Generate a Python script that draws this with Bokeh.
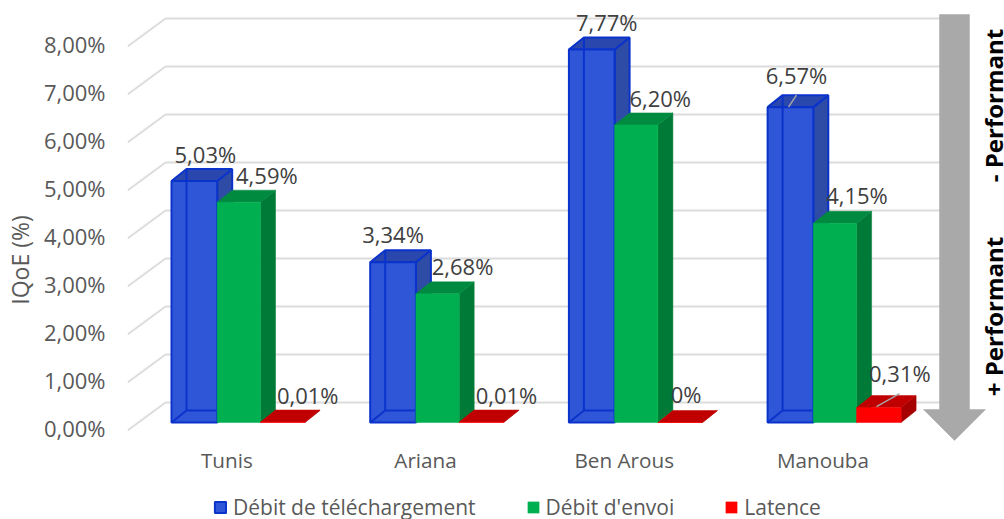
from bokeh.plotting import figure
from bokeh.embed import file_html
from bokeh.resources import INLINE
from bokeh.models import Range1d, LinearAxis, FixedTicker, Legend, LegendItem, ColumnDataSource
from bokeh.core.properties import value

categories = ["Tunis", "Ariana", "Ben Arous", "Manouba"]
series_names = ["Débit de téléchargement", "Débit d'envoi", "Latence"]
download = [5.03, 3.34, 7.77, 6.57]
upload = [4.59, 2.68, 6.20, 4.15]
latency = [0.01, 0.01, 0.0, 0.31]
download_labels = ["5,03%", "3,34%", "7,77%", "6,57%"]
upload_labels = ["4,59%", "2,68%", "6,20%", "4,15%"]
latency_labels = ["0,01%", "0,01%", "0%", "0,31%"]
y_ticks = [0, 1, 2, 3, 4, 5, 6, 7, 8]
y_tick_labels = ["0,00%", "1,00%", "2,00%", "3,00%", "4,00%", "5,00%", "6,00%", "7,00%", "8,00%"]

FONT = "Open Sans"
PX_X = 198.7   # px per category
PX_Y = 48.0    # px per percent
X0_IMG = 127
ZERO_IMG = 422
W, H = 1004, 519


def X(img_px):
    return (img_px - X0_IMG) / PX_X


def Y(img_px):
    return (ZERO_IMG - img_px) / PX_Y


DX, DY = 15 / PX_X, 12 / PX_Y
BAR_LEFT = [44 / PX_X, 89.7 / PX_X, 133 / PX_X]
BAR_WIDTH = [45.7 / PX_X, 43.3 / PX_X, 44.5 / PX_X]

p = figure(
    width=W, height=H, output_backend="svg", toolbar_location=None,
    x_range=Range1d(0, X(W)),
    y_range=Range1d(Y(H), Y(0)),
    x_axis_location="below", y_axis_location=None,
    min_border_left=127, min_border_right=0, min_border_top=0, min_border_bottom=0,
    background_fill_color="white", border_fill_color="white", outline_line_color=None,
)
p.grid.visible = False

AXIS_ZERO = 427
p.extra_y_ranges = {"axis": Range1d((AXIS_ZERO - H) / PX_Y, AXIS_ZERO / PX_Y)}
yaxis = LinearAxis(
    y_range_name="axis", ticker=FixedTicker(ticks=y_ticks), bounds=(-0.16, 8),
    major_label_overrides={t: s for t, s in zip(y_ticks, y_tick_labels)},
    axis_label="IQoE (%)", axis_label_text_font=FONT, axis_label_text_font_size="23px",
    axis_label_text_font_style="normal", axis_label_text_color="#595959", axis_label_standoff=5,
    major_label_text_font=FONT, major_label_text_font_size="22px", major_label_text_color="#595959",
    major_label_standoff=16, axis_line_color=None, major_tick_line_color=None, minor_tick_line_color=None,
)
p.add_layout(yaxis, "left")

xa = p.xaxis[0]
xa.fixed_location = Y(430)
xa.ticker = FixedTicker(ticks=[i + 0.5 for i in range(len(categories))])
xa.major_label_overrides = {i + 0.5: c for i, c in enumerate(categories)}
xa.major_label_text_font = FONT
xa.major_label_text_font_size = "20.7px"
xa.major_label_text_color = "#595959"
xa.major_label_standoff = 9
xa.axis_line_color = None
xa.major_tick_line_color = None
xa.minor_tick_line_color = None

fr, bk = -8 / PX_Y, 20 / PX_Y
gx = [[0, 38 / PX_X, len(categories) + 38 / PX_X] for _ in y_ticks]
gy = [[t + fr, t + bk, t + bk] for t in y_ticks]
p.multi_line(gx, gy, line_color="#dcdcdc", line_width=2)

faces = [
    ("#2f56d6", "#2e4ba6", "#2a47ad", "#0a33cc"),
    ("#00b050", "#007a37", "#008a40", None),
    ("#ff0000", "#a60000", "#c00000", None),
]
front_renderers = []
all_series = [download, upload, latency]
for j, vals in enumerate(all_series):
    front, side, top, edge = faces[j]
    x0 = [i + BAR_LEFT[j] for i in range(len(vals))]
    x1 = [x + BAR_WIDTH[j] for x in x0]
    zeros = [0] * len(vals)
    sx = [[b, b + DX, b + DX, b] for b in x1]
    sy = [[0, DY, v + DY, v] for v in vals]
    p.patches(sx, sy, fill_color=side, line_color=edge or side, line_width=2 if edge else 0.5)
    tx = [[a, a + DX, b + DX, b] for a, b in zip(x0, x1)]
    ty = [[v, v + DY, v + DY, v] for v in vals]
    p.patches(tx, ty, fill_color=top, line_color=edge or top, line_width=2 if edge else 0.5)
    r = p.quad(left=x0, right=x1, bottom=zeros, top=vals, fill_color=front,
               line_color=edge or front, line_width=2 if edge else 0.5)
    front_renderers.append(r)
    if edge:
        bx = []
        by = []
        for a, b, v in zip(x0, x1, vals):
            bx += [[a + DX, a + DX], [a, a + DX, b + DX]]
            by += [[DY, v + DY], [0, DY, DY]]
        p.multi_line(bx, by, line_color=edge, line_width=2)

label_sets = [download_labels, upload_labels, latency_labels]
x_nudges = [[11, 0, 15, 6], [28, 25, 24, 22], [25, 25, 6, 21]]
y_nudges = [[-27, -28, -28, -32], [-27, -28, -27, -28], [-27, -27, -29, -35]]
for j, vals in enumerate(all_series):
    src = ColumnDataSource(dict(
        x=[i + BAR_LEFT[j] + 0.5 * BAR_WIDTH[j] for i in range(len(vals))],
        y=vals, t=label_sets[j], xo=x_nudges[j], yo=y_nudges[j]))
    p.text("x", "y", text="t", x_offset="xo", y_offset="yo", source=src,
           text_font=value(FONT), text_font_size="22px", text_color="#404040",
           text_align="center", text_baseline="middle")

p.line([X(788), X(796)], [download[3], download[3] + 12 / PX_Y], line_color="#a6a6a6", line_width=1.5)
p.line([X(876), X(899)], [latency[3] + 1 / PX_Y, latency[3] + 14 / PX_Y], line_color="#a6a6a6", line_width=1.5)

ax = [939, 969, 969, 985, 954, 923, 939, 939]
ay = [14, 14, 409, 409, 440, 409, 409, 14]
p.patch([X(a) for a in ax], [Y(a) for a in ay], fill_color="#a9a9a9", line_color="#a9a9a9", line_width=0.5)

p.text([X(993)], [Y(105)], text=["- Performant"], angle=1.5708, text_font=value(FONT),
       text_font_style="bold", text_font_size="24px", text_color="#000000",
       text_align="center", text_baseline="middle")
p.text([X(993)], [Y(316)], text=["+ Performant"], angle=1.5708, text_font=value(FONT),
       text_font_style="bold", text_font_size="24px", text_color="#000000",
       text_align="center", text_baseline="middle")

legend = Legend(
    items=[LegendItem(label=n, renderers=[r]) for n, r in zip(series_names, front_renderers)],
    orientation="horizontal", location=(86, -2), glyph_width=14, glyph_height=14,
    label_standoff=6, spacing=50, padding=0, margin=0, border_line_color=None, background_fill_alpha=0,
    label_text_font=FONT, label_text_font_size="21px", label_text_color="#595959",
    label_height=14,
)
p.add_layout(legend, "center")

open("out.html", "w").write(file_html(p, INLINE))
